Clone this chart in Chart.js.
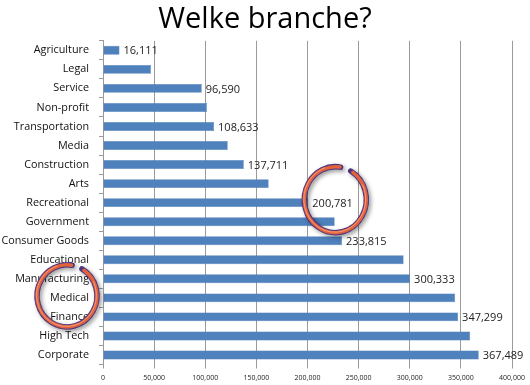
<!DOCTYPE html>
<html><head><meta charset="utf-8">
<script src="https://cdn.jsdelivr.net/npm/chart.js@4/dist/chart.umd.min.js"></script>
<style>html,body{margin:0;padding:0;background:#fff}#wrap{width:530px;height:385px}</style>
</head><body><div id="wrap"><canvas id="c" width="530" height="385"></canvas></div>
<script>
const titleText = "Welke branche?";
const categories = ["Agriculture","Legal","Service","Non-profit","Transportation","Media","Construction","Arts","Recreational","Government","Consumer Goods","Educational","Manufacturing","Medical","Finance","High Tech","Corporate"];
const values = [16111,46900,96590,101600,108633,122000,137711,162000,200781,226600,233815,294000,300333,344400,347299,359100,367489];
const labeledCategories = ["Agriculture","Service","Transportation","Construction","Recreational","Consumer Goods","Manufacturing","Finance","Corporate"];
const xTicks = [0,50000,100000,150000,200000,250000,300000,350000,400000];
const circledCategories = ["Recreational","Medical"];

const fmt = v => v.toLocaleString('en-US');

function drawRing(ctx, cx, cy, rx, ry){
  const a0 = -1.05, a1 = -1.05 + 2*Math.PI - 0.35;
  ctx.save();
  ctx.lineCap = 'round';
  ctx.shadowColor = 'rgba(0,0,0,0.4)';
  ctx.shadowBlur = 4; ctx.shadowOffsetX = 2; ctx.shadowOffsetY = 2;
  ctx.beginPath();
  ctx.ellipse(cx, cy, rx, ry, 0, a0, a1);
  ctx.strokeStyle = '#4a3580';
  ctx.lineWidth = 5.5;
  ctx.stroke();
  ctx.restore();
  ctx.save();
  ctx.lineCap = 'round';
  ctx.beginPath();
  ctx.ellipse(cx, cy, rx, ry, 0, a0 + 0.08, a1 - 0.02);
  ctx.strokeStyle = '#e2623c';
  ctx.lineWidth = 3.5;
  ctx.stroke();
  ctx.beginPath();
  ctx.ellipse(cx - 0.5, cy - 0.5, rx, ry, 0, a0 + 0.6, a1 - 0.5);
  ctx.strokeStyle = 'rgba(255,190,160,0.6)';
  ctx.lineWidth = 1;
  ctx.stroke();
  ctx.restore();
}

const labelPlugin = {
  id:'valueLabels',
  afterDatasetsDraw(chart){
    const ctx = chart.ctx;
    const meta = chart.getDatasetMeta(0);
    ctx.save();
    ctx.font = '11px "Open Sans"';
    ctx.fillStyle = '#222';
    ctx.textBaseline = 'middle';
    ctx.textAlign = 'left';
    meta.data.forEach((bar,i)=>{
      if(labeledCategories.includes(categories[i])){
        ctx.fillText(fmt(values[i]), bar.x + 4, bar.y + 1);
      }
    });
    ctx.restore();
  },
  afterDraw(chart){
    const ctx = chart.ctx;
    const meta = chart.getDatasetMeta(0);
    const ys = chart.scales.y;
    circledCategories.forEach((cat, k)=>{
      const bar = meta.data[categories.indexOf(cat)];
      if (k === 0) drawRing(ctx, bar.x + 27, bar.y - 3, 31, 33);
      else drawRing(ctx, ys.right - 36, bar.y - 2, 30, 31);
    });
  }
};

new Chart(document.getElementById('c'), {
  type:'bar',
  data:{ labels:categories, datasets:[{ data:values, backgroundColor:'#4F81BD', borderColor:'#4575b0', borderWidth:0.5, barPercentage:0.85, categoryPercentage:0.55 }]},
  options:{
    indexAxis:'y', responsive:false, animation:false,
    layout:{ padding:{ left:0, right:0, top:0, bottom:0 } },
    plugins:{
      legend:{display:false}, tooltip:{enabled:false},
      title:{ display:true, text:titleText, color:'#000', font:{ family:'"Open Sans"', size:29, weight:'normal', lineHeight:1.2 }, padding:{top:2,bottom:4}, align:'center' }
    },
    scales:{
      x:{ min:0, max:400000, afterBuildTicks(s){ s.ticks = xTicks.map(v=>({value:v})); },
        ticks:{ font:{ family:'"Open Sans"', size:7 }, color:'#222', callback:v=>fmt(v), maxRotation:0, padding:5 },
        grid:{ color:'#9a9a9a', lineWidth:1, tickLength:4, drawTicks:true },
        border:{ display:false },
        afterFit(s){ s.height = 20.5; s.paddingRight = 18; s.paddingLeft = 0; }
      },
      y:{ ticks:{ font:{ family:'"Open Sans"', size:10.8 }, color:'#111', padding:10 },
        grid:{ display:true, drawOnChartArea:false, tickLength:4, color:'#9a9a9a', offset:true },
        border:{ display:true, color:'#9a9a9a' },
        afterFit(s){ s.width = 103; }
      }
    }
  },
  plugins:[labelPlugin]
});
</script></body></html>
